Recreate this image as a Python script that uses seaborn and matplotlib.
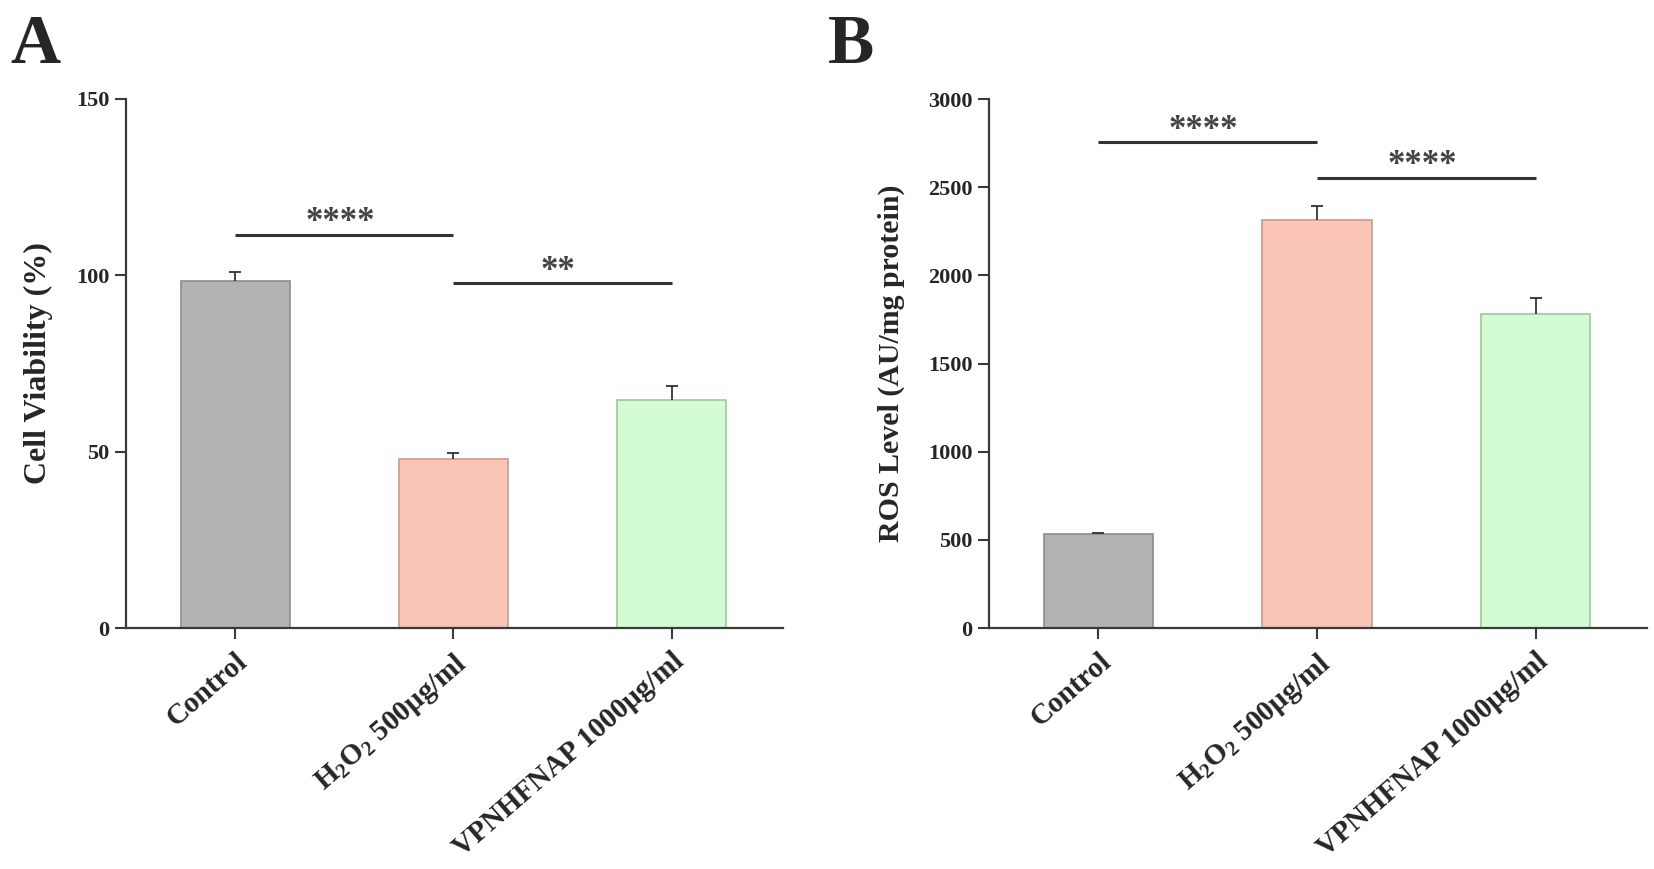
import numpy as np
import pandas as pd
import seaborn as sns
import matplotlib.pyplot as plt

# datos
grupos = ["Control", "H$_2$O$_2$ 500μg/ml", "VPNHFNAP 1000μg/ml"]
viabilidad = [98.4, 47.8, 64.6]
viabilidad_err = [2.5, 1.9, 3.9]
ros = [532, 2311, 1783]
ros_err = [9, 81, 91]

colores = ["#b3b3b3", "#fbc4b8", "#d3fcd3"]
bordes = ["#8c8c8c", "#c99a90", "#9cc89c"]

sig_A = [(0, 1, 111.5, "****"), (1, 2, 97.7, "**")]
sig_B = [(0, 1, 2755, "****"), (1, 2, 2553, "****")]

sns.set_style("ticks")
plt.rcParams['font.family'] = ['Liberation Serif', 'DejaVu Serif']
plt.rcParams['font.weight'] = 'bold'
plt.rcParams['mathtext.fontset'] = 'custom'
plt.rcParams['mathtext.rm'] = 'Liberation Serif:bold'
plt.rcParams['mathtext.it'] = 'Liberation Serif:bold'
plt.rcParams['mathtext.bf'] = 'Liberation Serif:bold'
plt.rcParams['mathtext.default'] = 'rm'

fig = plt.figure(figsize=(16.54, 8.69), dpi=100)
axA = fig.add_axes([126/1654, 1-628/869, 657/1654, 529/869])
axB = fig.add_axes([989/1654, 1-628/869, 658/1654, 529/869])


def panel(ax, vals, errs, sig, ylim, step, ylabel, labx, labsize, star_off):
    df = pd.DataFrame({"grupo": grupos, "valor": vals})
    sns.barplot(data=df, x="grupo", y="valor", hue="grupo", palette=colores,
                width=0.5, legend=False, ax=ax, errorbar=None, saturation=1)
    for p, c in zip(ax.patches, bordes):
        p.set_edgecolor(c)
        p.set_linewidth(1.2)
    _, caps, _ = ax.errorbar(range(3), vals, yerr=[np.zeros(3), errs], fmt="none",
                             ecolor="#333333", elinewidth=1.3, capsize=4, capthick=1.3)
    caps[0].set_visible(False)  # solo la tapa de arriba
    for x1, x2, y, txt in sig:
        ax.plot([x1, x2], [y, y], color="#333333", lw=2.2, solid_capstyle="butt")
        ax.text((x1 + x2) / 2 - 0.02, y + star_off, txt, ha="center", va="baseline",
                fontsize=25, color="#444444", fontweight="bold")
    ax.set_xlim(-0.5, 2.51)
    ax.set_ylim(*ylim)
    ax.set_yticks(np.arange(ylim[0], ylim[1] + 1, step))
    sns.despine(ax=ax)
    for s in ["left", "bottom"]:
        ax.spines[s].set_color("#3a3a3a")
        ax.spines[s].set_linewidth(1.6)
    ax.tick_params(axis="both", direction="out", length=8, width=1.5,
                   color="#3a3a3a", labelsize=16, pad=4)
    ax.tick_params(axis="x", labelsize=21, pad=6)
    plt.setp(ax.get_xticklabels(), rotation=41, ha="right",
             rotation_mode="anchor", fontweight="bold")
    plt.setp(ax.get_yticklabels(), fontweight="bold")
    ax.set_xlabel("")
    ax.set_ylabel(ylabel, fontsize=labsize, fontweight="bold")
    ax.yaxis.set_label_coords(labx, 0.5)


panel(axA, viabilidad, viabilidad_err, sig_A, (0, 150), 50,
      "Cell Viability (%)", -0.111, 23, 1.0)
panel(axB, ros, ros_err, sig_B, (0, 3000), 500,
      "ROS Level (AU/mg protein)", -0.128, 21.5, 20)

fig.text(10/1654, 1-63/869, "A", fontsize=50, fontweight="bold", va="baseline")
fig.text(828/1654, 1-63/869, "B", fontsize=50, fontweight="bold", va="baseline")

fig.savefig("out.png", dpi=100, facecolor="white")
